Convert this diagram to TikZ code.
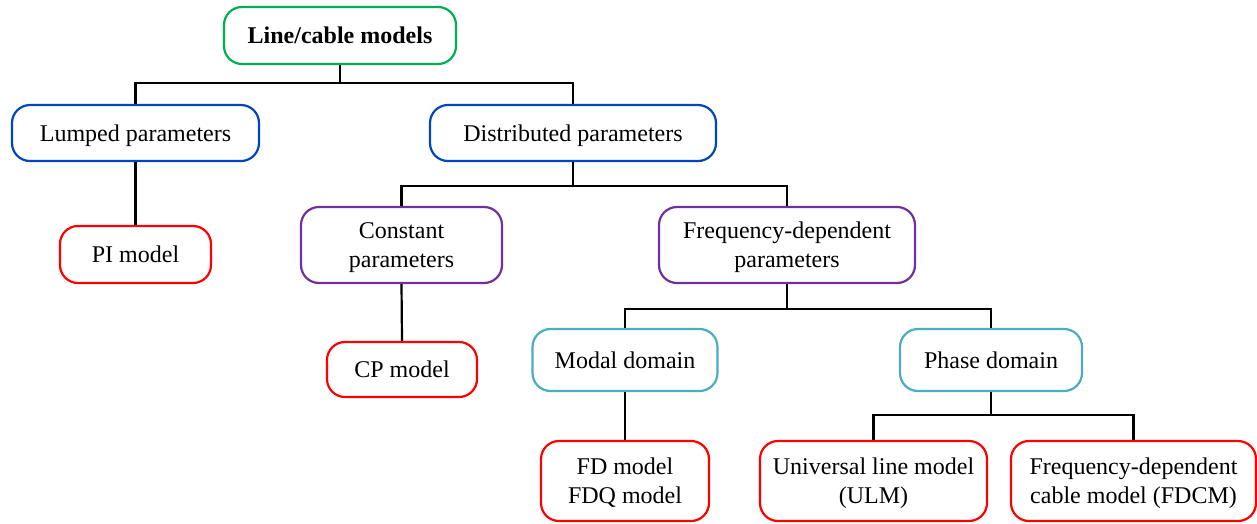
\documentclass[tikz,border=0pt]{standalone}
\usepackage{fontspec}
\setmainfont{Liberation Serif}
\usepackage{xcolor}
\definecolor{rootgreen}{RGB}{0,176,80}
\definecolor{lvlblue}{RGB}{0,70,190}
\definecolor{lvlpurple}{RGB}{112,48,160}
\definecolor{lvlcyan}{RGB}{75,172,198}
\definecolor{leafred}{RGB}{255,0,0}
\usetikzlibrary{positioning}

\begin{document}
\begin{tikzpicture}[x=1pt,y=-1pt,
    box/.style={draw,line width=2.2pt,rounded corners=18pt,inner sep=0pt,align=center,
      text height=21.4pt,text depth=5.2pt,font=\fontsize{24}{29}\selectfont},
    twoline/.style={text height=49.2pt},
    link/.style={line width=2.2pt,black}]
    \useasboundingbox (0,0) rectangle (1257,523);
    % root
    \node (root) at (340,35.5) [box,draw=rootgreen,minimum width=232,minimum height=57]{\textbf{Line/cable models}};
    % level 1
    \node (lump) at (135.5,133) [box,draw=lvlblue,minimum width=247,minimum height=56]{Lumped parameters};
    \node (dist) at (573,133) [box,draw=lvlblue,minimum width=286,minimum height=56]{Distributed parameters};
    % level 2
    \node (pi) at (135.5,254.5) [box,draw=leafred,minimum width=151,minimum height=57]{PI model};
    \node (const) at (401.5,245) [box,twoline,draw=lvlpurple,minimum width=201,minimum height=76]{Constant\\parameters};
    \node (freq) at (787,245) [box,twoline,draw=lvlpurple,minimum width=256,minimum height=76]{Frequency-dependent\\parameters};
    % level 3
    \node (cp) at (402,369.5) [box,draw=leafred,minimum width=150,minimum height=55]{CP model};
    \node (modal) at (625,360) [box,draw=lvlcyan,minimum width=185,minimum height=62]{Modal domain};
    \node (phase) at (991,360) [box,draw=lvlcyan,minimum width=182,minimum height=62]{Phase domain};
    % leaves
    \node (fd) at (625,481) [box,twoline,draw=leafred,minimum width=168,minimum height=80]{FD model\\FDQ model};
    \node (ulm) at (873.5,481) [box,twoline,draw=leafred,minimum width=227,minimum height=80]{Universal line model\\(ULM)};
    \node (fdcm) at (1133.5,481) [box,twoline,draw=leafred,minimum width=245,minimum height=80]{Frequency-dependent\\cable model (FDCM)};
    % junctions
    \coordinate (j1) at (340,83);
    \coordinate (j2) at (573,186);
    \coordinate (j3) at (787,309);
    \coordinate (j4) at (991,415);
    % edges
    \draw[link] (root.south) -- (j1) -| (lump.north);
    \draw[link] (j1) -| (dist.north);
    \draw[link] (lump.south) -- (pi.north);
    \draw[link] (dist.south) -- (j2) -| (const.north);
    \draw[link] (j2) -| (freq.north);
    \draw[link] (const.south) -- (cp.north);
    \draw[link] (freq.south) -- (j3) -| (modal.north);
    \draw[link] (j3) -| (phase.north);
    \draw[link] (modal.south) -- (fd.north);
    \draw[link] (phase.south) -- (j4) -| (ulm.north);
    \draw[link] (j4) -| (fdcm.north);
  \end{tikzpicture}
\end{document}
